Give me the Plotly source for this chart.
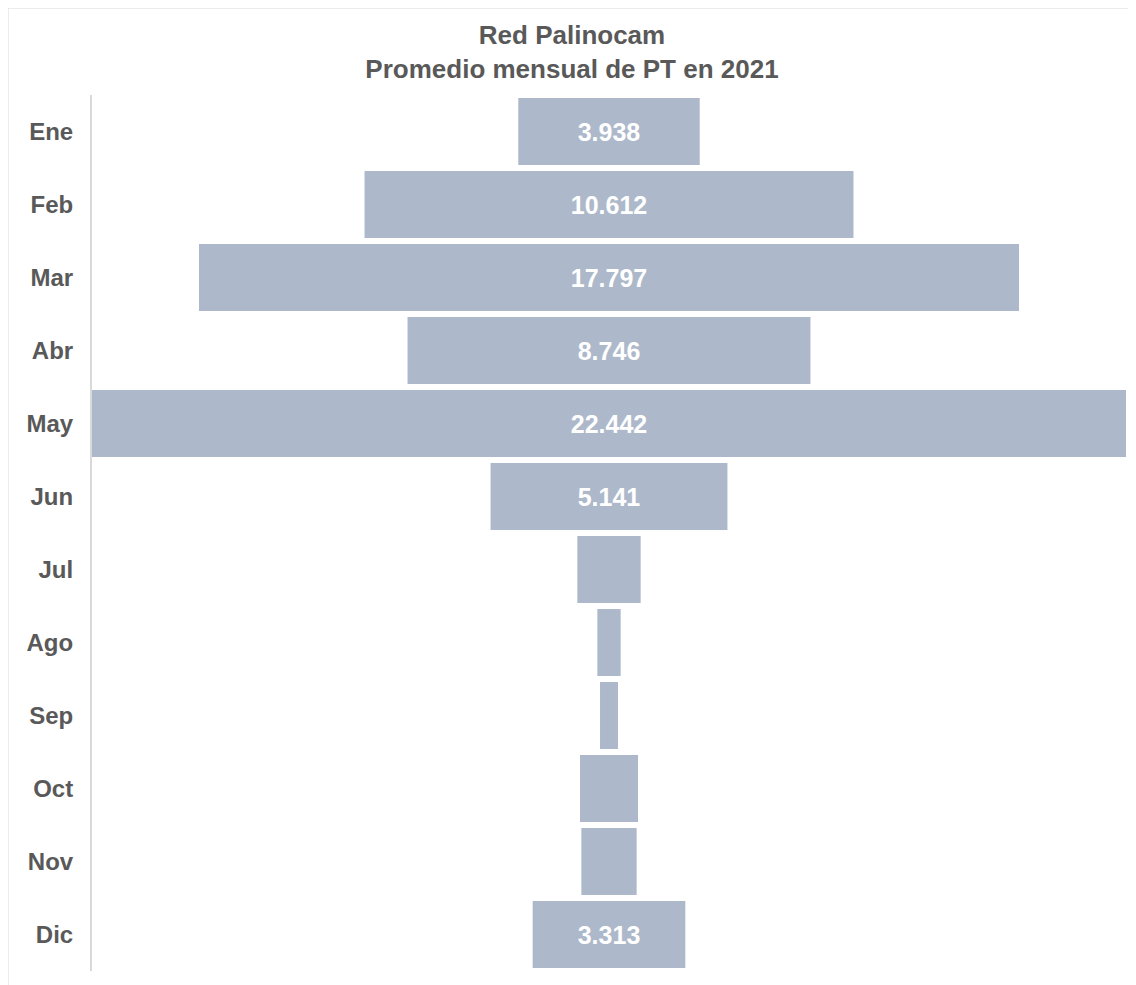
import plotly.graph_objects as go

months = ["Ene", "Feb", "Mar", "Abr", "May", "Jun", "Jul", "Ago", "Sep", "Oct", "Nov", "Dic"]
values = [3.938, 10.612, 17.797, 8.746, 22.442, 5.141, 1.374, 0.506, 0.39, 1.259, 1.20, 3.313]
labels = ["3.938", "10.612", "17.797", "8.746", "22.442", "5.141", "", "", "", "", "", "3.313"]

# page body has an 8px margin, so the figure is laid out in its own coordinates
W, H = 1128, 977
ml, mr, mt, mb = 84, 10, 87, 14
pw = W - ml - mr
ph = H - mt - mb
FONT = "Arial, Liberation Sans, sans-serif"

fig = go.Figure(go.Funnel(
    y=months, x=values, text=labels, textinfo="text",
    texttemplate="<b>%{text}</b>",
    textposition="inside", insidetextanchor="middle",
    textfont=dict(color="white", size=25, family=FONT),
    marker=dict(color="#adb9ca", line=dict(width=0)),
    connector=dict(visible=False),
    constraintext="none",
))
vmax = max(values)
fig.update_layout(
    width=W, height=H,
    margin=dict(l=ml, r=mr, t=mt, b=mb),
    paper_bgcolor="white", plot_bgcolor="white",
    funnelgap=0.08,
    title=dict(text="<b>Red Palinocam<br>Promedio mensual de PT en 2021</b>",
               x=0.5, xref="container", xanchor="center",
               y=1 - 36 / H, yanchor="middle",
               font=dict(size=26, color="#595959", family=FONT)),
    xaxis=dict(visible=False, range=[-vmax / 2, vmax / 2], fixedrange=True),
    yaxis=dict(showline=True, linecolor="#d9d9d9", linewidth=2, ticks="",
               ticklabelstandoff=12, showgrid=False,
               tickprefix="<b>", ticksuffix="</b>",
               tickfont=dict(size=24, color="#595959", family=FONT)),
    showlegend=False,
    shapes=[
        dict(type="line", xref="paper", yref="paper",
             x0=-ml / pw, x1=(W - ml) / pw,
             y0=(H - mb) / ph, y1=(H - mb) / ph,
             line=dict(color="#d9d9d9", width=1)),
        dict(type="line", xref="paper", yref="paper",
             x0=-ml / pw, x1=-ml / pw,
             y0=(H - mb) / ph, y1=-mb / ph,
             line=dict(color="#d9d9d9", width=1)),
    ],
)
fig.write_html("out.html")
